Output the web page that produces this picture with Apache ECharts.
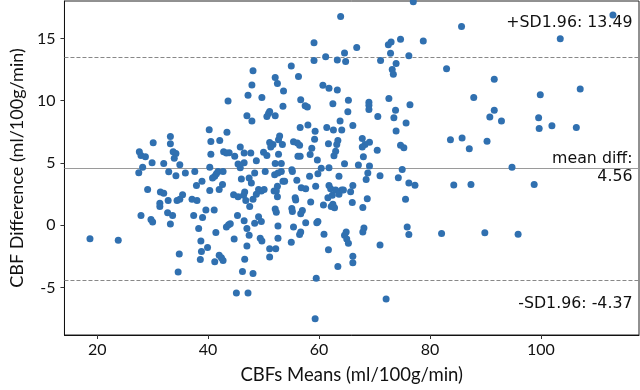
<!DOCTYPE html>
<html><head><meta charset="utf-8">
<script src="https://cdn.jsdelivr.net/npm/echarts@6/dist/echarts.min.js"></script>
<style>html,body{margin:0;padding:0;background:#fff}#c{width:640px;height:390px}</style>
</head><body><div id="c"></div>
<script>
// CBF means (x) and differences (y)
const meanValues = [
18.7,23.8,27.6,27.9,28.7,28.2,27.5,29.9,29.1,27.9,29.7,30.0,30.1,
48.1,52.1,52.5,47.9,53.6,47.2,49.7,43.6,53.5,51.1,50.9,52.1,50.6,47.0,47.9,40.2,43.4,33.2,42.1,33.2,40.5,52.9,52.7,51.1,51.7,51.3,53.4,
33.7,34.2,33.9,40.5,42.8,43.8,44.8,45.8,46.5,47.7,45.4,46.5,48.7,50.0,50.6,52.7,52.1,53.2,32.0,34.9,40.3,45.8,43.3,
55.0,59.1,63.3,64.8,71.1,73.9,73.2,73.4,56.3,60.7,61.8,63.3,56.7,57.5,57.9,62.5,65.3,69.0,69.0,69.0,72.6,65.2,73.8,70.6,73.5,63.8,66.1,
56.6,58.0,59.3,61.4,62.6,64.1,73.9,59.2,55.4,56.1,56.5,61.7,63.4,63.2,63.0,62.7,67.8,69.1,68.3,67.8,70.5,74.7,58.7,58.4,56.2,56.6,59.7,68.0,67.1,64.6,69.1,75.0,
77.0,63.9,59.1,66.8,64.6,61.2,72.5,73.0,74.7,78.8,72.9,76.2,
76.4,75.7,75.3,85.7,113.0,103.5,83.0,91.6,107.1,87.9,99.9,91.6,90.8,92.9,99.6,99.7,102.0,106.4,83.7,85.8,90.3,87.1,94.8,84.3,87.4,98.8,82.1,89.9,95.9,74.3,76.2,77.3,75.6,75.9,76.2,72.1,
32.9,34.2,35.9,37.6,41.2,41.5,41.8,42.7,40.8,46.0,47.4,47.8,48.4,50.3,52.0,38.9,37.9,40.3,42.0,42.6,31.4,32.0,32.8,31.3,31.3,34.4,34.9,35.4,37.1,38.0,
44.6,45.4,46.6,46.4,46.8,48.1,49.1,49.6,50.1,48.7,51.9,47.5,32.7,33.6,33.2,37.4,39.0,39.6,41.1,38.3,41.4,43.3,43.7,44.0,45.3,46.5,48.4,49.1,49.6,47.0,
47.4,44.7,47.0,49.4,49.7,38.7,39.9,38.8,34.8,38.6,42.0,42.4,42.7,41.2,46.6,46.2,48.1,34.6,51.1,51.1,45.1,47.2,
52.6,53.2,55.1,55.2,53.5,53.8,52.5,52.3,52.5,56.0,58.3,59.8,60.4,61.8,63.6,68.8,68.5,71.0,56.8,57.6,59.4,61.8,62.1,61.6,62.4,63.0,64.1,63.6,64.4,66.1,65.7,
55.7,55.8,58.5,60.8,62.5,62.2,62.8,66.0,68.7,67.9,52.1,52.3,55.1,55.2,57.0,56.7,52.6,55.4,57.6,59.8,59.6,56.7,56.5,60.9,64.9,64.6,65.0,65.3,68.1,67.9,
52.6,55.0,52.2,61.7,71.0,66.1,66.1,63.4,59.5,59.3
];
const diffValues = [
-1.08,-1.20,5.91,5.60,5.50,4.66,4.22,5.03,2.88,0.79,0.47,0.26,6.62,
12.41,11.86,11.39,11.25,10.78,10.44,10.26,9.97,9.56,9.13,8.98,8.79,8.74,8.79,8.38,7.67,7.46,7.12,6.81,6.54,6.73,7.17,6.86,6.65,6.49,6.28,6.49,
5.91,5.76,5.39,5.71,5.91,5.83,5.55,6.28,5.81,5.81,4.92,5.03,5.18,5.87,5.60,5.71,4.97,4.97,4.97,4.87,4.66,4.63,5.81,
12.78,13.22,13.27,13.14,13.22,12.98,12.51,12.12,11.94,11.23,10.99,10.86,10.07,9.60,9.50,9.76,10.03,9.87,9.63,9.29,10.18,9.11,9.24,8.74,8.64,8.38,8.01,
7.85,8.06,7.54,7.85,7.64,7.64,7.56,6.91,6.70,6.60,6.42,6.54,6.81,6.49,5.94,5.58,6.96,6.67,6.49,6.28,6.02,6.42,6.18,5.68,5.55,5.55,5.24,5.50,4.84,4.95,4.77,4.48,
17.93,16.75,14.66,14.27,13.82,13.53,14.49,14.71,14.94,14.79,13.80,13.61,
9.68,8.22,6.23,15.96,16.88,14.97,12.56,11.72,10.94,10.26,10.47,9.24,8.69,8.38,8.64,7.77,7.99,7.85,6.86,7.01,6.75,6.15,4.66,3.24,3.27,3.27,-0.65,-0.60,-0.71,3.82,3.40,3.22,2.10,-0.13,-0.73,-5.91,
4.30,3.98,4.19,4.32,3.93,4.14,4.32,4.32,3.79,3.71,3.79,3.40,4.19,4.32,4.06,3.53,3.20,2.80,2.88,3.27,2.67,2.57,1.99,1.78,1.52,1.99,2.10,2.46,2.10,1.99,
2.46,2.30,2.67,2.41,1.99,2.10,2.88,2.75,2.88,2.49,2.75,1.52,1.00,0.79,0.10,0.79,0.63,1.23,1.23,-0.26,-0.57,-0.13,0.05,0.13,0.79,0.37,0.16,0.68,0.31,-0.26,
-0.79,-1.10,-1.65,-1.04,-1.26,-1.26,-1.78,-2.10,-2.30,-2.75,-2.41,-2.61,-2.83,-2.93,-2.72,-3.71,-3.87,-3.75,-1.88,-2.54,-5.42,-5.42,
4.19,4.32,4.45,4.32,3.53,3.53,3.14,2.75,2.30,3.61,3.93,4.14,4.58,4.63,3.93,4.19,3.67,3.98,3.01,2.93,3.14,3.20,2.93,2.22,2.41,2.83,2.83,2.49,2.83,3.20,2.69,
2.22,2.04,1.88,1.63,1.70,1.52,1.41,1.83,2.14,1.44,1.31,1.04,1.36,1.10,1.18,0.92,-0.05,-0.13,0.21,0.31,0.21,-0.53,-0.73,-0.71,-0.53,-0.79,-1.10,-1.44,-0.21,-0.53,
-1.04,-1.36,-1.88,-1.96,-1.57,-2.49,-3.01,-3.30,-4.24,-7.5
];
const xTickValues = [20, 40, 60, 80, 100];
const yTickValues = [-5, 0, 5, 10, 15];
const meanDiff = 4.56;
const upperLoA = 13.49;
const lowerLoA = -4.37;

const chart = echarts.init(document.getElementById('c'), null, {renderer: 'canvas'});
const points = meanValues.map((m, i) => [m, diffValues[i]]);
const tickFont = 'Lato';
chart.setOption({
  animation: false,
  grid: {left: 57, right: 1, top: 1, bottom: 48, show: true, borderColor: '#222', borderWidth: 1},
  xAxis: {
    type: 'value', min: 14.1, max: 117.7,
    name: 'CBFs Means (ml/100g/min)', nameLocation: 'middle', nameGap: 31,
    nameTextStyle: {fontFamily: tickFont, fontSize: 18.5, color: '#111'},
    axisLine: {show: true, onZero: false, lineStyle: {color: '#111', width: 1}},
    axisTick: {show: true, length: 4, customValues: xTickValues, lineStyle: {color: '#333'}},
    axisLabel: {customValues: xTickValues, fontFamily: tickFont, fontSize: 16, color: '#111', margin: 7},
    splitLine: {show: false}
  },
  yAxis: {
    type: 'value', min: -8.8, max: 18,
    name: 'CBF Difference (ml/100g/min)', nameLocation: 'middle', nameGap: 37, nameRotate: 90,
    nameTextStyle: {fontFamily: tickFont, fontSize: 18, color: '#111'},
    axisLine: {show: true, onZero: false, lineStyle: {color: '#111', width: 1}},
    axisTick: {show: true, length: 4, customValues: yTickValues, lineStyle: {color: '#333'}},
    axisLabel: {customValues: yTickValues, fontFamily: tickFont, fontSize: 16, color: '#111', margin: 9,
      formatter: v => String(v)},
    splitLine: {show: false}
  },
  series: [{
    type: 'scatter', data: points, symbol: 'circle', symbolSize: 7,
    itemStyle: {color: '#3070b0', opacity: 1},
    z: 3,
    markLine: {
      silent: true, symbol: ['none', 'none'], label: {show: false}, animation: false, z: 1,
      data: [
        {yAxis: upperLoA, lineStyle: {type: [4, 2], color: '#888', width: 1}},
        {yAxis: meanDiff, lineStyle: {type: 'solid', color: '#9a9a9a', width: 1.2}},
        {yAxis: lowerLoA, lineStyle: {type: [4, 2], color: '#888', width: 1}}
      ]
    }
  }]
});

const yPix = v => chart.convertToPixel({gridIndex: 0}, [20, v])[1];
const rightX = chart.convertToPixel({gridIndex: 0}, [117.7, 0])[0] - 6.5;
const annFont = '15.8px "DejaVu Sans"';
const mk = (text, y) => ({type: 'text', silent: true, z: 10,
  style: {x: rightX, y: y, text: text, align: 'right', verticalAlign: 'middle', font: annFont, fill: '#111'}});
chart.setOption({graphic: [
  mk('+SD1.96: ' + upperLoA.toFixed(2), yPix(upperLoA) - 34),
  mk('mean diff:', yPix(meanDiff) - 9.5),
  mk(meanDiff.toFixed(2), yPix(meanDiff) + 8.5),
  mk('-SD1.96: ' + lowerLoA.toFixed(2), yPix(lowerLoA) + 24.5)
]});
</script>
</body></html>
